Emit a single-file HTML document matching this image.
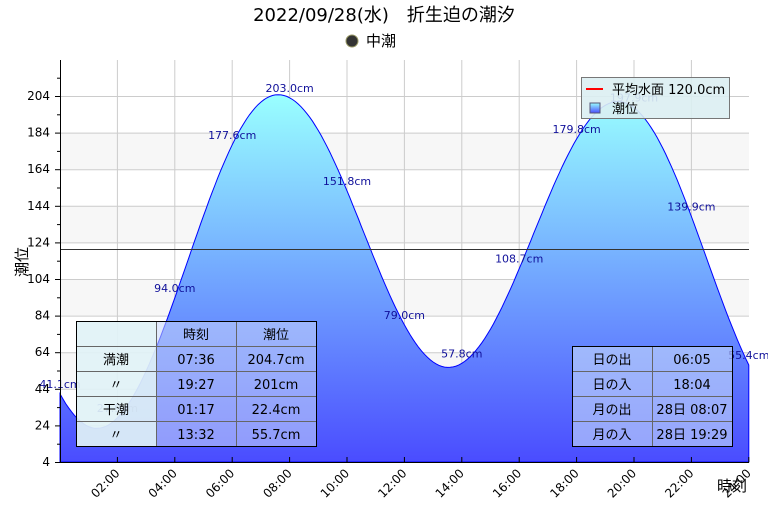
<!DOCTYPE html>
<html><head><meta charset="utf-8"><style>
body{margin:0;background:#fff;}
svg text{font-family:"DejaVu Sans","Noto Sans CJK JP",sans-serif;}
</style></head><body>
<svg id="s" width="768" height="512" xmlns="http://www.w3.org/2000/svg">
<defs>
<linearGradient id="g" x1="0" y1="96" x2="0" y2="462" gradientUnits="userSpaceOnUse">
<stop offset="0" stop-color="#99ffff"/><stop offset="1" stop-color="#4a4cff"/>
</linearGradient>
<linearGradient id="lg" x1="0" y1="0" x2="0" y2="1"><stop offset="0" stop-color="#99ffff"/><stop offset="1" stop-color="#4a4cff"/></linearGradient>
</defs>
<rect x="60" y="60" width="689" height="402" fill="#fff"/>
<g fill="#f7f7f7">
<rect x="60" y="132.6" width="689" height="36.6"/>
<rect x="60" y="205.8" width="689" height="36.6"/>
<rect x="60" y="279" width="689" height="36.6"/>
<rect x="60" y="352.2" width="689" height="36.6"/>
<rect x="60" y="425.4" width="689" height="36.6"/>
</g>
<g id="grid" stroke="#cccccc" stroke-width="1"></g>
<path id="area" fill="url(#g)" stroke="#0000ff" stroke-width="1"/>
<line x1="60" y1="249.5" x2="749" y2="249.5" stroke="#333" stroke-width="1"/>
<g id="lbl" font-size="11" fill="#10109a" text-anchor="middle"></g>
<g id="ax" stroke="#000" stroke-width="1"></g>
<g id="axt" font-size="12" fill="#000"></g>
<text x="384" y="21" font-size="18" text-anchor="middle">2022/09/28(水)　折生迫の潮汐</text>
<circle cx="352" cy="41" r="6" fill="#333"/><circle cx="352" cy="41" r="6" fill="none" stroke="#996" stroke-width="1"/>
<text x="366" y="46" font-size="15">中潮</text>
<text x="732" y="491" font-size="15" text-anchor="middle">時刻</text>
<text transform="translate(27,262) rotate(-90)" font-size="15" text-anchor="middle">潮位</text>
<rect x="581.5" y="77.5" width="148" height="41" fill="rgba(220,238,242,0.9)" stroke="#777"/>
<line x1="586" y1="89" x2="603" y2="89" stroke="#f00" stroke-width="2"/>
<text x="612" y="94" font-size="13">平均水面 120.0cm</text>
<rect x="590" y="103" width="10" height="10" fill="url(#lg)" stroke="#557"/>
<text x="612" y="113" font-size="13">潮位</text>
<g font-size="13" text-anchor="middle">
<rect x="76.5" y="321.5" width="80" height="125" fill="rgba(225,242,246,0.92)"/>
<rect x="156.5" y="321.5" width="160" height="125" fill="rgba(200,215,250,0.55)"/>
<g stroke="#666"><line x1="76" y1="346.5" x2="316" y2="346.5"/><line x1="76" y1="371.5" x2="316" y2="371.5"/><line x1="76" y1="396.5" x2="316" y2="396.5"/><line x1="76" y1="421.5" x2="316" y2="421.5"/><line x1="156.5" y1="321" x2="156.5" y2="446"/><line x1="236.5" y1="321" x2="236.5" y2="446"/></g>
<rect x="76.5" y="321.5" width="240" height="125" fill="none" stroke="#000"/>
<text x="196" y="339">時刻</text><text x="276" y="339">潮位</text>
<text x="116" y="364">満潮</text><text x="196" y="364">07:36</text><text x="276" y="364">204.7cm</text>
<text x="116" y="389">〃</text><text x="196" y="389">19:27</text><text x="276" y="389">201cm</text>
<text x="116" y="414">干潮</text><text x="196" y="414">01:17</text><text x="276" y="414">22.4cm</text>
<text x="116" y="439">〃</text><text x="196" y="439">13:32</text><text x="276" y="439">55.7cm</text>
</g>
<g font-size="13" text-anchor="middle">
<rect x="572.5" y="346.5" width="160" height="100" fill="rgba(200,220,250,0.6)"/>
<g stroke="#666"><line x1="572" y1="371.5" x2="733" y2="371.5"/><line x1="572" y1="396.5" x2="733" y2="396.5"/><line x1="572" y1="421.5" x2="733" y2="421.5"/><line x1="652.5" y1="346" x2="652.5" y2="446"/></g>
<rect x="572.5" y="346.5" width="160" height="100" fill="none" stroke="#000"/>
<text x="612" y="364">日の出</text><text x="692" y="364">06:05</text>
<text x="612" y="389">日の入</text><text x="692" y="389">18:04</text>
<text x="612" y="414">月の出</text><text x="692" y="414">28日 08:07</text>
<text x="612" y="439">月の入</text><text x="692" y="439">28日 19:29</text>
</g>
</svg>
<script>
var NS="http://www.w3.org/2000/svg";
function X(t){return 60+t*28.7;}
function Y(v){return 462-(v-4)*1.83;}
var ext=[[-4.8,200],[1.283,22.4],[7.6,204.7],[13.533,55.7],[19.45,201],[25.6,30]];
function val(t){for(var i=0;i<ext.length-1;i++){var a=ext[i],b=ext[i+1];if(t>=a[0]&&t<=b[0]){var f=(t-a[0])/(b[0]-a[0]);return a[1]+(b[1]-a[1])*(1-Math.cos(Math.PI*f))/2;}}return 0;}
var d="M60,462";for(var t=0;t<=24.001;t+=0.1){d+=" L"+X(t).toFixed(1)+","+Y(val(t)).toFixed(1);}d+=" L"+X(24)+",462 Z";
document.getElementById("area").setAttribute("d",d);
function el(p,n,a,txt){var e=document.createElementNS(NS,n);for(var k in a)e.setAttribute(k,a[k]);if(txt)e.textContent=txt;document.getElementById(p).appendChild(e);}
for(var h=2;h<=22;h+=2){el("grid","line",{x1:X(h),y1:60,x2:X(h),y2:462});}
for(var v=24;v<=204;v+=20){el("grid","line",{x1:60,y1:Y(v)+.5,x2:749,y2:Y(v)+.5});}
var labs={0:"41.1cm",2:"27.9cm",4:"94.0cm",6:"177.6cm",8:"203.0cm",10:"151.8cm",12:"79.0cm",14:"57.8cm",16:"108.7cm",18:"179.8cm",20:"197.9cm",22:"139.9cm",24:"55.4cm"};
for(var h in labs){h=+h;el("lbl","text",{x:X(h),y:Y(val(h))-6},labs[h]);}
el("ax","line",{x1:60.5,y1:60,x2:60.5,y2:462});el("ax","line",{x1:60,y1:462.5,x2:749,y2:462.5});
for(var v=4;v<=204;v+=20){el("ax","line",{x1:55,y1:Y(v)+.5,x2:60,y2:Y(v)+.5});el("axt","text",{x:50,y:Y(v)+4,"text-anchor":"end"},String(v));}
for(var v=14;v<=214;v+=20){el("ax","line",{x1:57,y1:Y(v)+.5,x2:60,y2:Y(v)+.5});}
for(var h=2;h<=24;h+=2){el("ax","line",{x1:X(h),y1:457,x2:X(h),y2:462});var hh=(h<10?"0":"")+h+":00";el("axt","text",{x:0,y:0,"text-anchor":"end",transform:"translate("+(X(h)+3)+",474) rotate(-45)"},hh);}
</script>
</body></html>
